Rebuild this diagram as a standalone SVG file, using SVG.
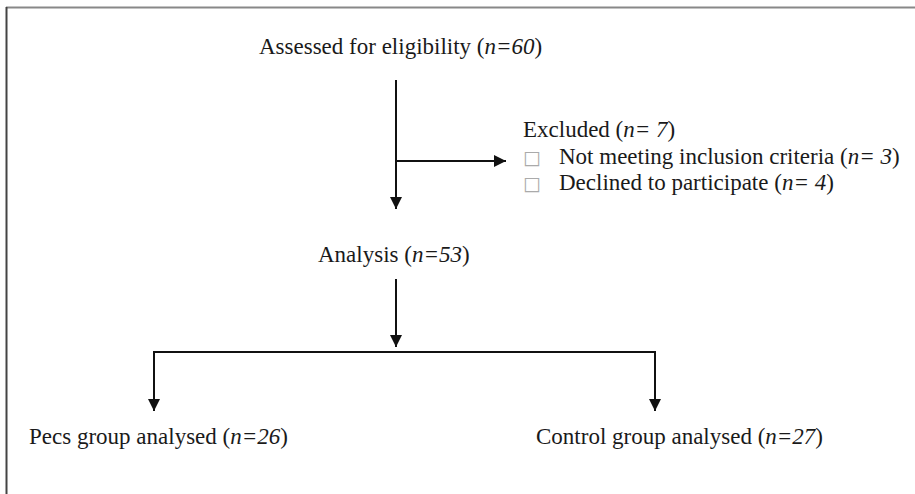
<svg xmlns="http://www.w3.org/2000/svg" width="915" height="494" viewBox="0 0 915 494">
<style>
.t{font-family:"Liberation Serif","Times New Roman",serif;font-size:23px;fill:#1a1a1a}
.c{stroke:#111;stroke-width:2;fill:none}
.b{font-family:"DejaVu Sans",sans-serif;font-size:19px;fill:#aaa}
</style>
<defs>
<marker id="a" viewBox="0 0 10 10" refX="10" refY="5" markerWidth="6" markerHeight="6" orient="auto" markerUnits="strokeWidth">
<path d="M0,0 L10,5 L0,10 z" fill="#111"/>
</marker>
</defs>
<rect width="915" height="494" fill="#fff"/>
<g id="frame">
<line x1="6" y1="7.5" x2="915" y2="7.5" stroke="#888" stroke-width="2"/>
<line x1="6.5" y1="7" x2="6.5" y2="494" stroke="#444" stroke-width="2"/>
</g>
<g id="connectors">
<line class="c" x1="396" y1="80" x2="396" y2="209" marker-end="url(#a)"/>
<line class="c" x1="396" y1="161" x2="506" y2="161" marker-end="url(#a)"/>
<line class="c" x1="396" y1="279" x2="396" y2="347" marker-end="url(#a)"/>
<polyline class="c" points="154,410 154,352 655,352 655,410"/>
<line class="c" x1="154" y1="352" x2="154" y2="411" marker-end="url(#a)"/>
<line class="c" x1="655" y1="352" x2="655" y2="411" marker-end="url(#a)"/>
</g>
<g id="assessed"><text class="t" x="259" y="54">Assessed for eligibility (<tspan font-style="italic">n=60</tspan>)</text></g>
<g id="excluded">
<text class="t" x="523" y="137">Excluded  (<tspan font-style="italic">n= 7</tspan>)</text>
<text class="b" x="523" y="164">□</text>
<text class="t" x="559" y="164">Not meeting inclusion criteria (<tspan font-style="italic">n= 3</tspan>)</text>
<text class="b" x="523" y="190">□</text>
<text class="t" x="559" y="190">Declined to participate (<tspan font-style="italic">n= 4</tspan>)</text>
</g>
<g id="analysis"><text class="t" x="318" y="262">Analysis (<tspan font-style="italic">n=53</tspan>)</text></g>
<g id="pecs"><text class="t" x="29" y="444">Pecs group analysed (<tspan font-style="italic">n=26</tspan>)</text></g>
<g id="control"><text class="t" x="536" y="444">Control group analysed (<tspan font-style="italic">n=27</tspan>)</text></g>
</svg>
